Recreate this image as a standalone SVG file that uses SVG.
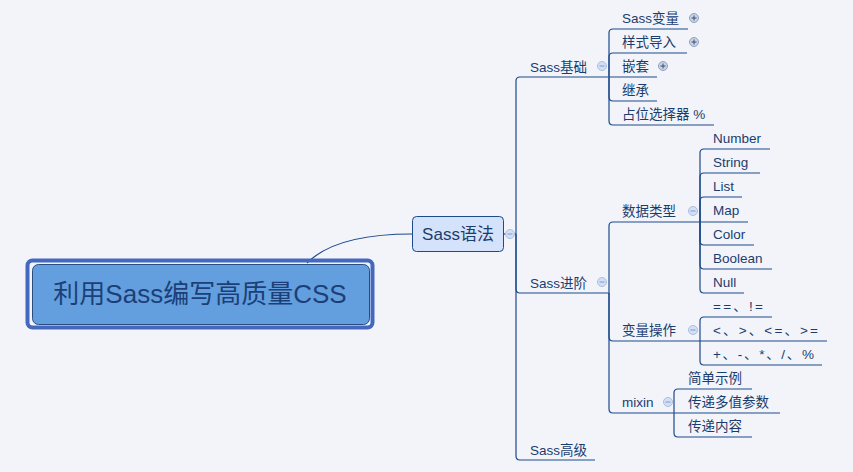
<svg xmlns="http://www.w3.org/2000/svg" width="853" height="472" viewBox="0 0 853 472">
<style>
.bg{fill:#f2f4fa}
.ln{fill:none;stroke:#1d4a8a;stroke-width:1.2}
.t{font-family:"Liberation Sans","Noto Sans CJK SC",sans-serif;font-size:13.5px;fill:#1b3d6e}
.c{fill:#d3dff4;stroke:#a9bfe2;stroke-width:1}
.m{stroke:#7f9cc8;stroke-width:1}
.p{fill:#c9d3e6;stroke:#8fa2c2;stroke-width:1}
.pm{stroke:#3d4f70;stroke-width:1}
</style>
<rect class="bg" x="0" y="0" width="853" height="472"/>
<g id="connectors">
<path class="ln" d="M307,263 C330,240 370,234 412,234"/>
<path class="ln" d="M503,234 H516"/>
<path class="ln" d="M516,234 V81 Q516,77 520,77 H608"/>
<path class="ln" d="M516,234 V289 Q516,293 520,293 H608"/>
<path class="ln" d="M516,234 V456 Q516,460 520,460 H595"/>
<path class="ln" d="M609,77 V33 Q609,29 613,29 H688"/>
<path class="ln" d="M609,77 V57 Q609,53 613,53 H687"/>
<path class="ln" d="M609,77 H657"/>
<path class="ln" d="M609,77 V97 Q609,101 613,101 H657"/>
<path class="ln" d="M609,77 V121 Q609,125 613,125 H714"/>
<path class="ln" d="M608,293 H609 V226 Q609,222 613,222 H700"/>
<path class="ln" d="M609,293 V337 Q609,341 613,341 H700"/>
<path class="ln" d="M609,293 V409 Q609,413 613,413 H674"/>
<path class="ln" d="M700,222 V153 Q700,149 704,149 H770"/>
<path class="ln" d="M700,222 V177 Q700,173 704,173 H760"/>
<path class="ln" d="M700,222 V201 Q700,197 704,197 H742"/>
<path class="ln" d="M700,222 H748"/>
<path class="ln" d="M700,222 V241 Q700,245 704,245 H754"/>
<path class="ln" d="M700,222 V265 Q700,269 704,269 H772"/>
<path class="ln" d="M700,222 V289 Q700,293 704,293 H744"/>
<path class="ln" d="M700,341 V321 Q700,317 704,317 H772"/>
<path class="ln" d="M700,341 H827"/>
<path class="ln" d="M700,341 V361 Q700,365 704,365 H822"/>
<path class="ln" d="M674,413 V393 Q674,389 678,389 H752"/>
<path class="ln" d="M674,413 H780"/>
<path class="ln" d="M674,413 V433 Q674,437 678,437 H752"/>
</g>
<g id="root">
<rect x="27.5" y="260.5" width="345" height="67" rx="5" fill="none" stroke="#4468be" stroke-width="4"/>
<rect x="32.5" y="264.5" width="337" height="60" rx="6" fill="#639fdf" stroke="#2a4d80" stroke-width="1"/>
<text x="200" y="303" text-anchor="middle" font-family="'Liberation Sans','Noto Sans CJK SC',sans-serif" font-size="26" fill="#1c3f78">利用Sass编写高质量CSS</text>
</g>
<g id="sass-yufa">
<rect x="412.5" y="216.5" width="91" height="35" rx="4" fill="#d4e2fb" stroke="#1d4a8a" stroke-width="1"/>
<text x="458" y="240" text-anchor="middle" font-family="'Liberation Sans','Noto Sans CJK SC',sans-serif" font-size="17" fill="#1b3d6e">Sass语法</text>
<circle class="c" cx="510" cy="234" r="4.5"/><path class="m" d="M507.5,234 H512.5"/>
</g>
<g id="sass-jichu">
<text class="t" x="530" y="72">Sass基础</text>
<circle class="c" cx="602" cy="66" r="4.5"/><path class="m" d="M599.5,66 H604.5"/>
</g>
<g id="sass-bianliang"><text class="t" x="622" y="23">Sass变量</text>
<circle class="p" cx="694" cy="18" r="4.5"/><path class="pm" d="M691.5,18 H696.5 M694,15.5 V20.5"/></g>
<g id="yangshi-daoru"><text class="t" x="622" y="47">样式导入</text>
<circle class="p" cx="694" cy="42" r="4.5"/><path class="pm" d="M691.5,42 H696.5 M694,39.5 V44.5"/></g>
<g id="qiantao"><text class="t" x="622" y="71">嵌套</text>
<circle class="p" cx="663" cy="66" r="4.5"/><path class="pm" d="M660.5,66 H665.5 M663,63.5 V68.5"/></g>
<g id="jicheng"><text class="t" x="622" y="95">继承</text></g>
<g id="zhanwei"><text class="t" x="622" y="119">占位选择器 %</text></g>
<g id="sass-jinjie">
<text class="t" x="530" y="288">Sass进阶</text>
<circle class="c" cx="602" cy="282" r="4.5"/><path class="m" d="M599.5,282 H604.5"/>
</g>
<g id="sass-gaoji"><text class="t" x="530" y="455">Sass高级</text></g>
<g id="shuju-leixing">
<text class="t" x="622" y="216">数据类型</text>
<circle class="c" cx="693" cy="211" r="4.5"/><path class="m" d="M690.5,211 H695.5"/>
</g>
<g id="number"><text class="t" x="713" y="143">Number</text></g>
<g id="string"><text class="t" x="713" y="167">String</text></g>
<g id="list"><text class="t" x="713" y="191">List</text></g>
<g id="map"><text class="t" x="713" y="215">Map</text></g>
<g id="color"><text class="t" x="713" y="239">Color</text></g>
<g id="boolean"><text class="t" x="713" y="263">Boolean</text></g>
<g id="null"><text class="t" x="713" y="287">Null</text></g>
<g id="bianliang-caozuo">
<text class="t" x="622" y="335">变量操作</text>
<circle class="c" cx="693" cy="330" r="4.5"/><path class="m" d="M690.5,330 H695.5"/>
</g>
<g id="op1"><text class="t" x="713" y="311" textLength="50" lengthAdjust="spacing">==、!=</text></g>
<g id="op2"><text class="t" x="713" y="335" textLength="105" lengthAdjust="spacing">&lt;、&gt;、&lt;=、&gt;=</text></g>
<g id="op3"><text class="t" x="713" y="359" textLength="101" lengthAdjust="spacing">+、-、*、/、%</text></g>
<g id="mixin">
<text class="t" x="622" y="407">mixin</text>
<circle class="c" cx="668" cy="402" r="4.5"/><path class="m" d="M665.5,402 H670.5"/>
</g>
<g id="jiandan-shili"><text class="t" x="688" y="383">简单示例</text></g>
<g id="chuandi-duozhi"><text class="t" x="688" y="407">传递多值参数</text></g>
<g id="chuandi-neirong"><text class="t" x="688" y="431">传递内容</text></g>
</svg>
